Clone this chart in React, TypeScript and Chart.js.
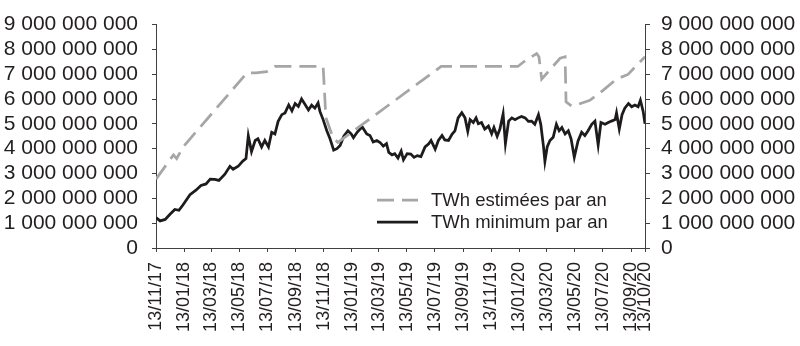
import { useEffect, useRef } from 'react';
import { Chart, registerables } from 'chart.js';

Chart.register(...registerables);

const FONT = '"Liberation Sans", Arial, Helvetica, sans-serif';
const UNIT = 1e9;

// x-axis tick labels (dd/mm/yy)
const tickLabels = [
  '13/11/17', '13/01/18', '13/03/18', '13/05/18', '13/07/18', '13/09/18', '13/11/18',
  '13/01/19', '13/03/19', '13/05/19', '13/07/19', '13/09/19', '13/11/19',
  '13/01/20', '13/03/20', '13/05/20', '13/07/20', '13/09/20', '13/10/20',
];

// y-axis ticks (billions)
const yTickValues = [0, 1, 2, 3, 4, 5, 6, 7, 8, 9];

// "TWh estimées par an" : day offset from 13/11/17, value in billions
const estDays = [0, 38, 45, 59, 198, 218, 241, 259, 364, 370, 385, 396, 621, 788, 801, 829, 834, 840, 880, 891, 893, 905, 919, 945, 973, 1003, 1028, 1065];
const estValues = [2.77, 3.75, 3.6, 4.07, 7.05, 7.05, 7.1, 7.31, 7.31, 5.25, 4.47, 4.25, 7.31, 7.31, 7.5, 7.83, 7.7, 6.8, 7.64, 7.7, 5.89, 5.72, 5.78, 5.95, 6.34, 6.8, 6.99, 7.7];

// "TWh minimum par an" : day offset from 13/11/17, value in billions
const minDays = [
  0, 9, 20, 30, 41, 50, 59, 74, 87, 98, 109, 118, 128, 137, 150, 161, 168, 179, 189, 196,
  201, 208, 216, 222, 230, 237, 245, 252, 259, 266, 274, 281, 289, 296, 303, 310, 317, 324,
  332, 339, 346, 353, 357, 364, 372, 379, 387, 394, 401, 409, 418, 425, 430, 438, 449, 459,
  466, 473, 481, 488, 495, 502, 507, 514, 520, 527, 534, 539, 547, 555, 562, 569, 577, 586,
  594, 599, 608, 615, 623, 629, 637, 645, 651, 658, 666, 673, 679, 684, 691, 697, 702, 709,
  716, 724, 731, 736, 743, 749, 756, 761, 768, 775, 782, 789, 796, 804, 811, 818, 825, 833,
  838, 844, 847, 852, 858, 865, 872, 878, 884, 891, 898, 904, 911, 919, 927, 934, 941, 949,
  956, 963, 969, 978, 985, 992, 1000, 1003, 1009, 1015, 1021, 1029, 1036, 1043, 1050, 1055,
  1061, 1065,
];
const minValues = [
  1.22, 1.09, 1.15, 1.35, 1.55, 1.52, 1.74, 2.15, 2.33, 2.52, 2.58, 2.77, 2.76, 2.72, 2.97, 3.29, 3.17, 3.29, 3.5, 3.6,
  4.52, 3.88, 4.33, 4.4, 4.07, 4.33, 4.07, 4.66, 4.59, 5.1, 5.37, 5.44, 5.76, 5.52, 5.82, 5.7, 6.0, 5.8,
  5.56, 5.75, 5.63, 5.84, 5.5, 5.17, 4.72, 4.4, 3.94, 4.0, 4.13, 4.5, 4.72, 4.6, 4.44, 4.66, 4.88, 4.59,
  4.53, 4.27, 4.33, 4.25, 4.1, 4.2, 3.85, 3.75, 3.8, 3.62, 3.9, 3.55, 3.8, 3.78, 3.65, 3.72, 3.68, 4.07,
  4.2, 4.33, 3.98, 4.33, 4.53, 4.35, 4.33, 4.59, 4.72, 5.24, 5.45, 5.24, 4.7, 5.17, 5.05, 5.24, 5.0, 5.05,
  4.79, 4.91, 4.6, 4.85, 4.5, 4.79, 5.4, 4.2, 5.11, 5.24, 5.17, 5.24, 5.3, 5.24, 5.1, 5.11, 4.98, 5.37,
  4.98, 4.07, 3.49, 4.07, 4.33, 4.46, 4.98, 4.72, 4.85, 4.59, 4.72, 4.4, 3.65, 4.3, 4.66, 4.53, 4.72, 4.98,
  5.11, 4.15, 5.05, 4.98, 5.05, 5.11, 5.17, 5.44, 4.79, 5.37, 5.63, 5.82, 5.69, 5.76, 5.69, 5.95,
  5.5, 5.0,
];

const START = Date.UTC(2017, 10, 13);
const DAY = 86400000;
const tickDays = tickLabels.map((s) => {
  const [d, m, y] = s.split('/').map(Number);
  return Math.round((Date.UTC(2000 + y, m - 1, d) - START) / DAY);
});
const X_MAX = tickDays[tickDays.length - 1];

const fmt = (v: number) => String(Math.round(v)).replace(/\B(?=(\d{3})+(?!\d))/g, '\u00a0');

const insideLegend = {
  id: 'insideLegend',
  afterDatasetsDraw(chart: any) {
    const { ctx, chartArea } = chart;
    ctx.save();
    chart.data.datasets.forEach((ds: any, i: number) => {
      const y = chartArea.bottom - 48 + i * 22;
      const x0 = chartArea.left + 221;
      ctx.beginPath();
      ctx.setLineDash(ds.borderDash || []);
      ctx.lineWidth = ds.borderWidth;
      ctx.strokeStyle = ds.borderColor;
      ctx.moveTo(x0, y);
      ctx.lineTo(x0 + 41, y);
      ctx.stroke();
      ctx.setLineDash([]);
      ctx.fillStyle = '#231f20';
      ctx.font = `18.5px ${FONT}`;
      ctx.textBaseline = 'middle';
      ctx.textAlign = 'left';
      ctx.fillText(ds.label, x0 + 54, y + 1);
    });
    ctx.restore();
  },
};

export default function App() {
  const ref = useRef<HTMLCanvasElement | null>(null);

  useEffect(() => {
    document.body.style.margin = '0';
    const canvas = ref.current;
    if (!canvas) return;

    const yTicksCommon = {
      autoSkip: false,
      color: '#231f20',
      font: { size: 21, family: FONT, lineHeight: 1 },
      callback: (v: any) => fmt(Number(v)),
    };
    const gridCommon = {
      display: true,
      drawOnChartArea: false,
      drawTicks: true,
      color: '#404040',
      lineWidth: 1,
    };
    const setYTicks = (s: any) => {
      s.ticks = yTickValues.map((v) => ({ value: v * UNIT }));
    };

    const chart = new Chart(canvas, {
      type: 'line',
      data: {
        datasets: [
          {
            label: 'TWh estimées par an',
            data: estDays.map((d, i) => ({ x: d, y: estValues[i] * UNIT })),
            borderColor: '#a6a6a6',
            borderWidth: 2.75,
            borderDash: [17, 8],
            pointRadius: 0,
            fill: false,
            tension: 0,
            yAxisID: 'y',
          },
          {
            label: 'TWh minimum par an',
            data: minDays.map((d, i) => ({ x: d, y: minValues[i] * UNIT })),
            borderColor: '#1e1b1c',
            borderWidth: 2.75,
            pointRadius: 0,
            fill: false,
            tension: 0,
            yAxisID: 'y',
          },
        ],
      },
      options: {
        animation: false,
        responsive: true,
        maintainAspectRatio: false,
        layout: { padding: { top: 16.5, left: 0, right: 0, bottom: 0 } },
        plugins: { legend: { display: false }, tooltip: { enabled: false } },
        scales: {
          x: {
            type: 'linear',
            min: 0,
            max: X_MAX,
            afterBuildTicks: (s: any) => {
              s.ticks = tickDays.map((v) => ({ value: v }));
            },
            afterFit: (s: any) => {
              s.height = 98;
            },
            ticks: {
              autoSkip: false,
              minRotation: 90,
              maxRotation: 90,
              padding: 10,
              color: '#231f20',
              font: { size: 18, family: FONT },
              callback: (_v: any, i: number) => tickLabels[i],
            },
            grid: { ...gridCommon, tickLength: 4 },
            border: { display: true, color: '#404040', width: 1 },
          },
          y: {
            type: 'linear',
            position: 'left',
            min: yTickValues[0] * UNIT,
            max: yTickValues[yTickValues.length - 1] * UNIT,
            afterBuildTicks: setYTicks,
            afterFit: (s: any) => {
              s.width = 156;
            },
            ticks: { ...yTicksCommon, padding: 14 },
            grid: { ...gridCommon, tickLength: 4 },
            border: { display: true, color: '#404040', width: 1 },
          },
          y2: {
            type: 'linear',
            position: 'right',
            min: yTickValues[0] * UNIT,
            max: yTickValues[yTickValues.length - 1] * UNIT,
            afterBuildTicks: setYTicks,
            afterFit: (s: any) => {
              s.width = 155;
            },
            ticks: { ...yTicksCommon, padding: 11 },
            grid: { ...gridCommon, tickLength: 5 },
            border: { display: true, color: '#404040', width: 1 },
          },
        },
      },
      plugins: [insideLegend],
    } as any);

    return () => chart.destroy();
  }, []);

  return (
    <div style={{ position: 'relative', width: 800, height: 346 }}>
      <canvas ref={ref} />
    </div>
  );
}
